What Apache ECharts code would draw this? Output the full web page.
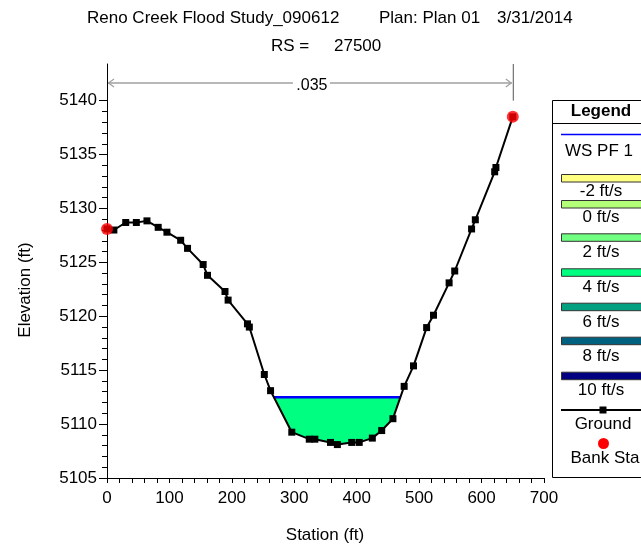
<!DOCTYPE html>
<html>
<head>
<meta charset="utf-8">
<script src="https://cdn.jsdelivr.net/npm/echarts@6/dist/echarts.min.js"></script>
<style>
  html, body { margin: 0; padding: 0; background: #ffffff; }
  #chart { width: 641px; height: 547px; }
</style>
</head>
<body>
<div id="chart"></div>
<script>
// Cross section RS 27500 — ground survey (station ft, elevation ft)
const stations = [0, 11, 30, 47, 64, 82, 96, 118, 129, 154, 161, 189, 194, 225, 228, 252, 262, 296, 324, 333,
  358, 369, 392, 404, 425, 440, 458, 476, 491, 512, 523, 548, 557, 584, 590, 621, 623, 650];
const elevations = [5128.1, 5128.0, 5128.7, 5128.7, 5128.85, 5128.25, 5127.8, 5127.05, 5126.3, 5124.8, 5123.8,
  5122.3, 5121.5, 5119.3, 5119.0, 5114.6, 5113.1, 5109.25, 5108.6, 5108.6, 5108.3, 5108.1, 5108.3, 5108.3,
  5108.7, 5109.4, 5110.5, 5113.5, 5115.4, 5118.95, 5120.1, 5123.1, 5124.2, 5128.1, 5128.95, 5133.4, 5133.8, 5138.5];
const bankStations = [0, 650];
const wsElevation = 5112.5;       // WS PF 1
const manningN = '.035';

const xTickLabels = [0, 100, 200, 300, 400, 500, 600, 700];
const yTickLabels = [5105, 5110, 5115, 5120, 5125, 5130, 5135, 5140];

const legendNames = ['WS PF 1', '-2 ft/s', '0 ft/s', '2 ft/s', '4 ft/s', '6 ft/s', '8 ft/s', '10 ft/s', 'Ground', 'Bank Sta'];
const velocityColors = ['#ffff80', '#b4ff78', '#70ff80', '#00ff80', '#00a080', '#006080', '#000080'];

const FONT = '"Liberation Sans", Arial, sans-serif';

const ground = stations.map((s, i) => [s, elevations[i]]);
const bankPoints = bankStations.map(s => [s, elevations[stations.indexOf(s)]]);

// Wetted section: where the ground dips below the water surface
function crossing(i) {
  const s0 = stations[i], s1 = stations[i + 1], e0 = elevations[i], e1 = elevations[i + 1];
  return s0 + (wsElevation - e0) / (e1 - e0) * (s1 - s0);
}
let iLeft = -1, iRight = -1;
for (let i = 0; i < stations.length - 1; i++) {
  if (iLeft < 0 && elevations[i] >= wsElevation && elevations[i + 1] < wsElevation) iLeft = i;
  if (iLeft >= 0 && elevations[i] < wsElevation && elevations[i + 1] >= wsElevation) { iRight = i; break; }
}
const wsLeft = crossing(iLeft), wsRight = crossing(iRight);
const waterPoly = [[wsLeft, wsElevation]]
  .concat(ground.slice(iLeft + 1, iRight + 1))
  .concat([[wsRight, wsElevation]]);

// one-foot minor ticks between the labelled elevations
const minorY = [];
for (let v = yTickLabels[0]; v < yTickLabels[yTickLabels.length - 1]; v++) if (v % 5 !== 0) minorY.push(v);

const chart = echarts.init(document.getElementById('chart'), null, { renderer: 'canvas' });

chart.setOption({
  animation: false,
  backgroundColor: '#ffffff',
  grid: { left: 107, top: 64, right: 97, bottom: 69, containLabel: false },
  xAxis: {
    type: 'value', min: 0, max: 700, interval: 100,
    axisLine: { lineStyle: { color: '#000', width: 1 } },
    axisTick: { length: 5, lineStyle: { color: '#000' } },
    minorTick: { show: true, splitNumber: 5, length: 5, lineStyle: { color: '#000' } },
    splitLine: { show: false },
    axisLabel: { customValues: xTickLabels, formatter: v => String(v), fontSize: 17, color: '#000', margin: 12, fontFamily: FONT }
  },
  yAxis: [{
    type: 'value', min: 5105, max: 5143.4, interval: 5,
    axisLine: { lineStyle: { color: '#000', width: 1 } },
    axisTick: { customValues: yTickLabels, length: 8, lineStyle: { color: '#000' } },
    splitLine: { show: false },
    axisLabel: { customValues: yTickLabels, formatter: v => String(v), fontSize: 17, color: '#000', margin: 10, fontFamily: FONT }
  }, {
    type: 'value', min: 5105, max: 5143.4, position: 'left',
    axisLine: { show: false },
    axisTick: { show: true, customValues: minorY, length: 5, lineStyle: { color: '#000' } },
    axisLabel: { show: false },
    splitLine: { show: false }
  }],
  series: [
    {
      name: 'Water', type: 'custom', z: 1, silent: true,
      data: [[wsLeft, wsElevation]],
      renderItem: (params, api) => ({
        type: 'polygon',
        shape: { points: waterPoly.map(p => api.coord(p)) },
        style: { fill: velocityColors[3], stroke: null }
      })
    },
    {
      name: legendNames[0], type: 'line', z: 2, symbol: 'none',
      data: [[wsLeft, wsElevation], [wsRight, wsElevation]],
      lineStyle: { color: '#0000ff', width: 2.5 }
    },
    {
      name: legendNames[8], type: 'line', z: 3, data: ground,
      symbol: 'rect', symbolSize: 7, showAllSymbol: true,
      itemStyle: { color: '#000' },
      lineStyle: { color: '#000', width: 2 }
    },
    {
      name: legendNames[9], type: 'scatter', z: 4, data: bankPoints,
      symbol: 'circle', symbolSize: 12,
      itemStyle: { color: '#ff0000' }
    }
  ]
});

// Manning's n bracket between the bank stations, title block, axis titles and legend
const xL = chart.convertToPixel({ xAxisIndex: 0 }, bankStations[0]);
const xR = chart.convertToPixel({ xAxisIndex: 0 }, bankStations[1]);
const yTop = chart.convertToPixel({ yAxisIndex: 0 }, 5143.4);
const y5140 = chart.convertToPixel({ yAxisIndex: 0 }, 5140);
const nY = 83;
const nMid = (xL + xR) / 2;
const gray = '#a0a0a0';

const txt = (text, x, y, opts = {}) => ({
  type: 'text', x, y, silent: true, rotation: opts.rotation || 0,
  style: {
    text, fill: '#000', font: (opts.weight || 'normal') + ' ' + (opts.size || 17) + 'px ' + FONT,
    textAlign: opts.align || 'center', textVerticalAlign: 'middle'
  }
});

const graphics = [
  txt('Reno Creek Flood Study_090612', 87, 18, { align: 'left' }),
  txt('Plan: Plan 01', 379, 18, { align: 'left' }),
  txt('3/31/2014', 497, 18, { align: 'left' }),
  txt('RS =', 271, 46, { align: 'left' }),
  txt('27500', 334, 46, { align: 'left' }),
  txt('Station (ft)', 325, 535),
  txt('Elevation (ft)', 25.5, 290, { rotation: Math.PI / 2 }),

  // n-value bracket
  { type: 'line', silent: true, shape: { x1: xL + 1, y1: nY, x2: nMid - 17, y2: nY }, style: { stroke: gray, lineWidth: 1.5 } },
  { type: 'line', silent: true, shape: { x1: nMid + 20, y1: nY, x2: xR - 1, y2: nY }, style: { stroke: gray, lineWidth: 1.5 } },
  { type: 'polyline', silent: true, shape: { points: [[xL + 7, nY - 4], [xL + 1.5, nY], [xL + 7, nY + 4]] }, style: { stroke: gray, lineWidth: 1.2, fill: null } },
  { type: 'polyline', silent: true, shape: { points: [[xR - 7, nY - 4], [xR - 1.5, nY], [xR - 7, nY + 4]] }, style: { stroke: gray, lineWidth: 1.2, fill: null } },
  { type: 'line', silent: true, shape: { x1: xR + 0.5, y1: yTop, x2: xR + 0.5, y2: y5140 }, style: { stroke: '#555', lineWidth: 1 } },
  txt(manningN, nMid + 2, 86, { size: 16 }),

  // legend box
  { type: 'rect', silent: true, shape: { x: 552.5, y: 100.5, width: 100, height: 377 }, style: { fill: '#fff', stroke: '#000', lineWidth: 1 } },
  txt('Legend', 601, 111.5, { weight: 'bold' }),
  { type: 'line', silent: true, shape: { x1: 552, y1: 123.5, x2: 652, y2: 123.5 }, style: { stroke: '#000', lineWidth: 1 } },
  { type: 'line', silent: true, shape: { x1: 561, y1: 134.5, x2: 652, y2: 134.5 }, style: { stroke: '#0000ff', lineWidth: 1.5 } },
  txt(legendNames[0], 599, 151)
];

const swatchTops = [174, 200, 233.3, 268.3, 302.7, 336.7, 371.7];
const labelYs = [191, 217.7, 252.3, 287.3, 322.3, 356.7, 390.8];
velocityColors.forEach((c, i) => {
  graphics.push({ type: 'rect', silent: true, shape: { x: 561.5, y: swatchTops[i] + 0.5, width: 92, height: 7.5 },
    style: { fill: c, stroke: '#333', lineWidth: 1 } });
  graphics.push(txt(legendNames[i + 1], 601, labelYs[i]));
});
graphics.push(
  { type: 'line', silent: true, shape: { x1: 561, y1: 410, x2: 652, y2: 410 }, style: { stroke: '#000', lineWidth: 2 } },
  { type: 'rect', silent: true, shape: { x: 599.5, y: 406.5, width: 7, height: 7 }, style: { fill: '#000' } },
  txt(legendNames[8], 603, 424),
  { type: 'circle', silent: true, shape: { cx: 603.5, cy: 443.5, r: 5.5 }, style: { fill: '#ff0000' } },
  txt(legendNames[9], 605, 458)
);

chart.setOption({ graphic: graphics });
</script>
</body>
</html>
